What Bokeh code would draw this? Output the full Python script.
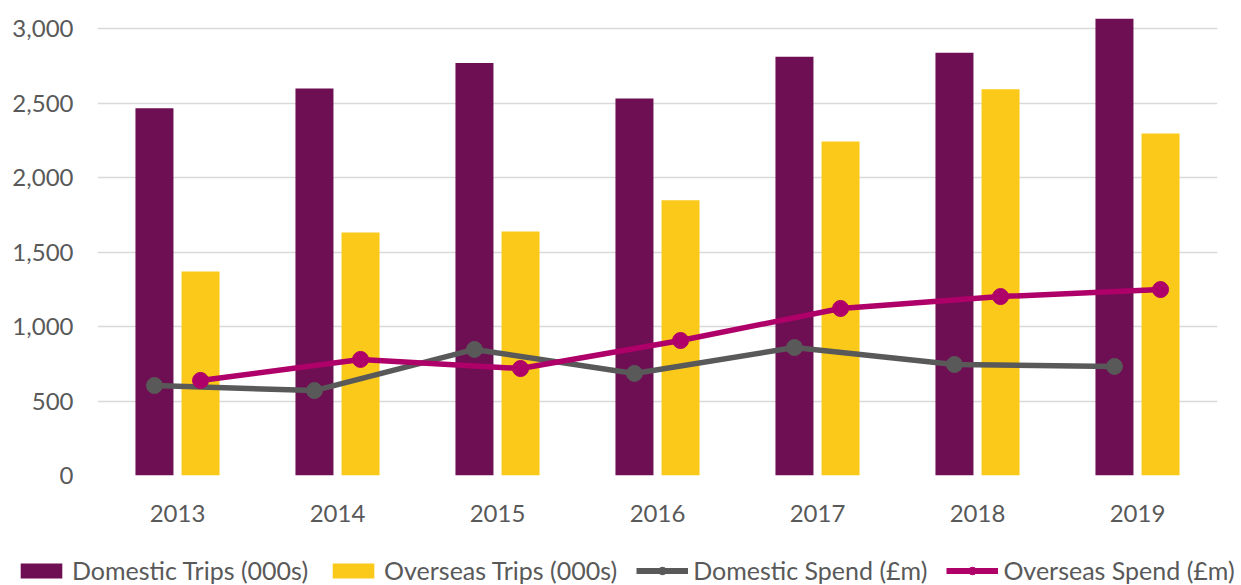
from bokeh.plotting import figure
from bokeh.layouts import column
from bokeh.models import (FactorRange, Range1d, FixedTicker, NumeralTickFormatter,
                          Legend, LegendItem, ColumnDataSource)
from bokeh.transform import dodge
from bokeh.embed import file_html
from bokeh.resources import INLINE

years = ["2013", "2014", "2015", "2016", "2017", "2018", "2019"]
domestic_trips = [2465, 2597, 2768, 2530, 2810, 2838, 3065]
overseas_trips = [1370, 1631, 1638, 1847, 2242, 2592, 2295]
domestic_spend = [604, 570, 846, 685, 859, 745, 732]
overseas_spend = [638, 779, 718, 906, 1121, 1201, 1248]
y_ticks = [0, 500, 1000, 1500, 2000, 2500, 3000]
series_names = ["Domestic Trips (000s)", "Overseas Trips (000s)",
                "Domestic Spend (£m)", "Overseas Spend (£m)"]

src = ColumnDataSource(dict(year=years, dt=domestic_trips, ot=overseas_trips,
                            ds=domestic_spend, os=overseas_spend))

FONT = "Lato"
TXT = "#595959"
PURPLE = "#6F0F53"
YELLOW = "#FBC91A"
GREY = "#595959"
MAGENTA = "#AF006A"

p = figure(width=1241, height=540, output_backend="svg", toolbar_location=None,
           x_range=FactorRange(factors=years), y_range=Range1d(0, 3121),
           min_border_left=97, min_border_right=24, min_border_top=10,
           min_border_bottom=65)
p.outline_line_color = None
p.frame_align = False

p.vbar(x=dodge("year", -0.144, range=p.x_range), top="dt", width=0.2375,
       source=src, fill_color=PURPLE, line_color=None)
p.vbar(x=dodge("year", 0.144, range=p.x_range), top="ot", width=0.2375,
       source=src, fill_color=YELLOW, line_color=None)
p.line(x=dodge("year", -0.144, range=p.x_range), y="ds", source=src,
       line_color=GREY, line_width=5.5)
p.scatter(x=dodge("year", -0.144, range=p.x_range), y="ds", source=src,
          size=16, fill_color=GREY, line_color=GREY)
p.line(x=dodge("year", 0.144, range=p.x_range), y="os", source=src,
       line_color=MAGENTA, line_width=5.5)
p.scatter(x=dodge("year", 0.144, range=p.x_range), y="os", source=src,
          size=16, fill_color=MAGENTA, line_color=MAGENTA)

p.yaxis.ticker = FixedTicker(ticks=y_ticks)
p.yaxis.formatter = NumeralTickFormatter(format="0,0")
for ax in (p.xaxis, p.yaxis):
    ax.axis_line_color = None
    ax.major_tick_line_color = None
    ax.minor_tick_line_color = None
    ax.major_label_text_font = FONT
    ax.major_label_text_font_size = "24px"
    ax.major_label_text_color = TXT
p.yaxis.major_label_standoff = 18
p.xaxis.major_label_standoff = 23

p.xgrid.grid_line_color = None
p.ygrid.grid_line_color = "#D9D9D9"
p.ygrid.grid_line_width = 1.5
p.ygrid.ticker = FixedTicker(ticks=y_ticks)

# legend strip (its own small figure so the legend can span the full width)
q = figure(width=1241, height=45, output_backend="svg", toolbar_location=None,
           x_range=Range1d(0, 1), y_range=Range1d(0, 1),
           min_border_left=0, min_border_right=0, min_border_top=0,
           min_border_bottom=0)
q.frame_align = False
q.axis.visible = False
q.grid.visible = False
q.outline_line_color = None
r1 = q.vbar(x=[5], top=[5], width=0.1, fill_color=PURPLE, line_color=None)
r2 = q.vbar(x=[5], top=[5], width=0.1, fill_color=YELLOW, line_color=None)
r3 = q.line(x=[5, 6], y=[5, 5], line_color=GREY, line_width=6)
r4 = q.scatter(x=[5], y=[5], size=16, fill_color=GREY, line_color=GREY)
r5 = q.line(x=[5, 6], y=[5, 5], line_color=MAGENTA, line_width=6)
r6 = q.scatter(x=[5], y=[5], size=16, fill_color=MAGENTA, line_color=MAGENTA)

legend = Legend(items=[
    LegendItem(label=series_names[0], renderers=[r1]),
    LegendItem(label=series_names[1], renderers=[r2]),
    LegendItem(label=series_names[2], renderers=[r3, r4]),
    LegendItem(label=series_names[3], renderers=[r5, r6]),
], orientation="horizontal", location=(15, 0))
legend.label_text_font = FONT
legend.label_text_font_size = "25px"
legend.label_text_color = TXT
legend.glyph_width = 52
legend.glyph_height = 19
legend.label_standoff = 5
legend.spacing = 19
legend.padding = 0
legend.margin = 0
legend.border_line_color = None
legend.background_fill_alpha = 0
q.add_layout(legend, "center")

layout = column(p, q, spacing=0)
open("out.html", "w").write(file_html(layout, INLINE))
